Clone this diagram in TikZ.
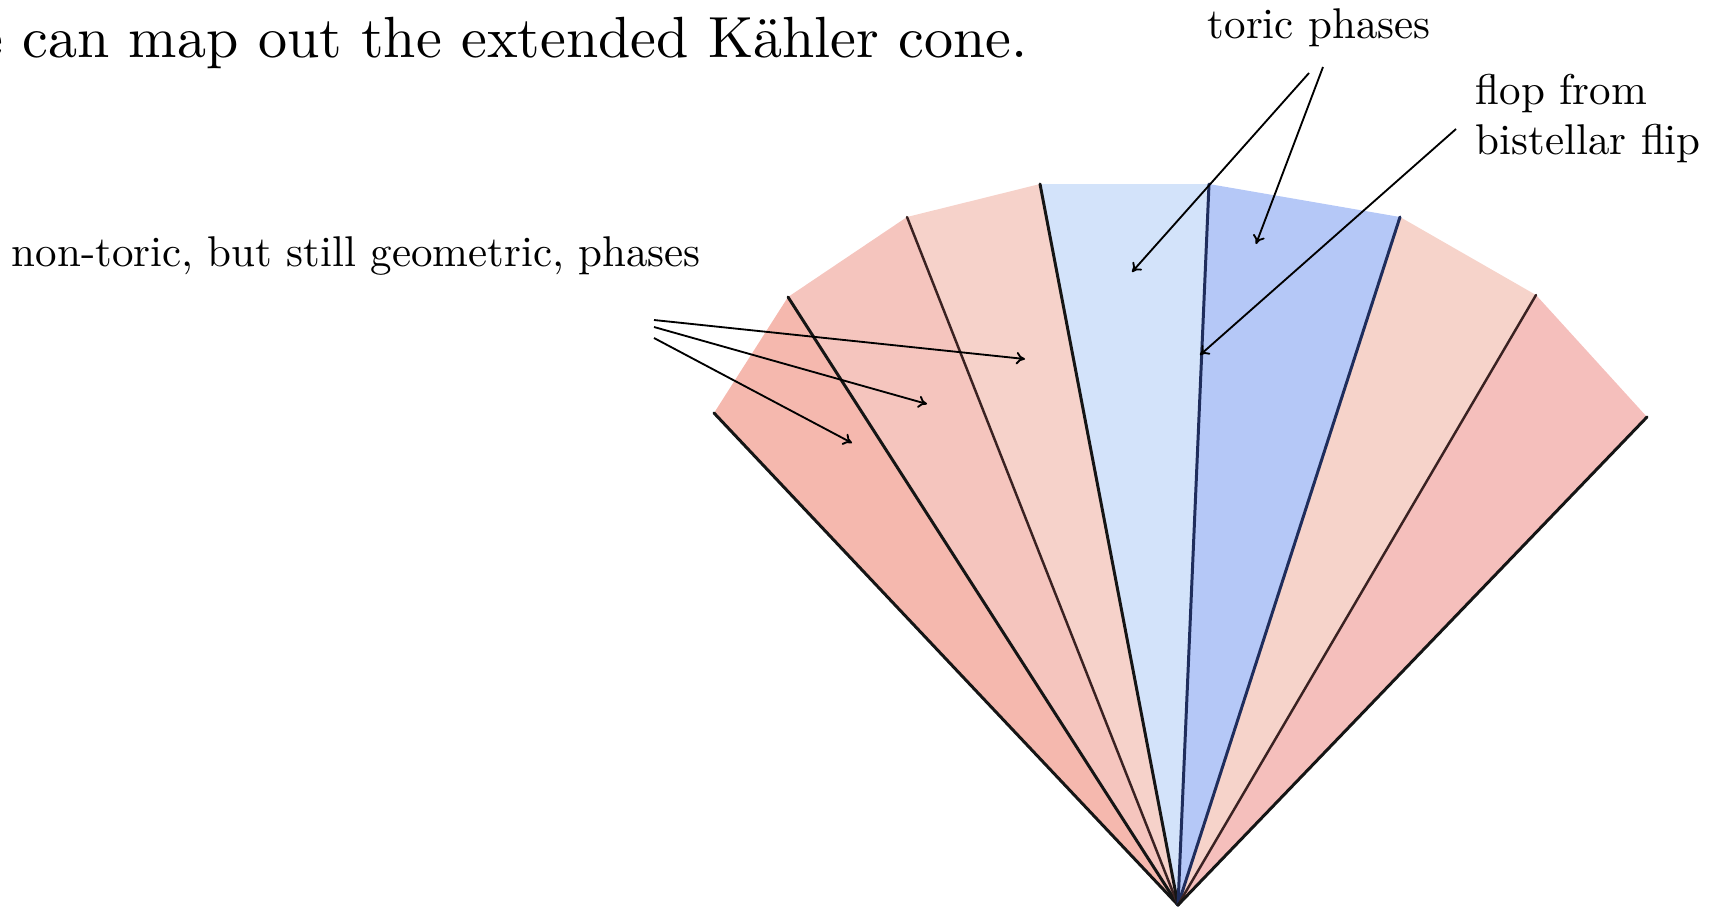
\documentclass[tikz,border=0pt]{standalone}
\usetikzlibrary{arrows.meta}
\definecolor{rA}{HTML}{F5B8AE}
\definecolor{rB}{HTML}{F5C5BE}
\definecolor{rC}{HTML}{F6D2CA}
\definecolor{rD}{HTML}{D3E3FA}
\definecolor{rE}{HTML}{B5C8F7}
\definecolor{rF}{HTML}{F6D3CA}
\definecolor{rG}{HTML}{F5BFBC}
\definecolor{lnDark}{HTML}{151515}
\definecolor{lnBrown}{HTML}{3A2222}
\definecolor{lnNavy}{HTML}{1F2D5C}
\begin{document}
\begin{tikzpicture}[x=0.02cm,y=-0.02cm,
  lbl/.style={inner sep=0pt, scale=2.447, font=\fontsize{10}{12}\selectfont},
  ttl/.style={inner sep=0pt, scale=3.306, font=\fontsize{10}{12}\selectfont},
  ray/.style={line width=1.7pt, line cap=round},
  ptr/.style={line width=1.05pt, -{To[length=5pt,width=7pt]}}]
\useasboundingbox (0,0) rectangle (1717,907);
% vertices
\coordinate (A) at (1178,905);
\coordinate (V1) at (714,413);
\coordinate (V2) at (788,297);
\coordinate (V3) at (907,217);
\coordinate (V4) at (1040,184);
\coordinate (V5) at (1209,184);
\coordinate (V6) at (1400,217);
\coordinate (V7) at (1536,295);
\coordinate (V8) at (1647,417);
% regions
\fill[rA] (A) -- (V1) -- (V2) -- cycle;
\fill[rB] (A) -- (V2) -- (V3) -- cycle;
\fill[rC] (A) -- (V3) -- (V4) -- cycle;
\fill[rD] (A) -- (V4) -- (V5) -- cycle;
\fill[rE] (A) -- (V5) -- (V6) -- cycle;
\fill[rF] (A) -- (V6) -- (V7) -- cycle;
\fill[rG] (A) -- (V7) -- (V8) -- cycle;
% rays
\draw[ray, lnDark] (A) -- (V1);
\draw[ray, lnDark] (A) -- (V2);
\draw[ray, lnBrown, line width=1.4pt] (A) -- (V3);
\draw[ray, lnDark] (A) -- (V4);
\draw[ray, lnNavy] (A) -- (V5);
\draw[ray, lnNavy] (A) -- (V6);
\draw[ray, lnBrown, line width=1.4pt] (A) -- (V7);
\draw[ray, lnDark] (A) -- (V8);
% texts
\node[ttl, anchor=base east] (title) at (1029,57) {e can map out the extended Kähler cone.};
\node[lbl, anchor=base west] (toric) at (1207,38) {toric phases};
\node[lbl, anchor=base west] (flopa) at (1475,104) {flop from};
\node[lbl, anchor=base west] (flopb) at (1475,154) {bistellar flip};
\node[lbl, anchor=base west] (nontoric) at (11,266) {non-toric, but still geometric, phases};
% pointer ends
\coordinate (n1s) at (654,320); \coordinate (n1e) at (1025,359);
\coordinate (n2s) at (654,327); \coordinate (n2e) at (927,404);
\coordinate (n3s) at (654,338); \coordinate (n3e) at (852,443);
\coordinate (t1s) at (1309,73); \coordinate (t1e) at (1132,272);
\coordinate (t2s) at (1323,67); \coordinate (t2e) at (1256,244);
\coordinate (fs) at (1456,129); \coordinate (fe) at (1200,355);
\draw[ptr] (n1s) -- (n1e);
\draw[ptr] (n2s) -- (n2e);
\draw[ptr] (n3s) -- (n3e);
\draw[ptr] (t1s) -- (t1e);
\draw[ptr] (t2s) -- (t2e);
\draw[ptr] (fs) -- (fe);
\end{tikzpicture}
\end{document}
